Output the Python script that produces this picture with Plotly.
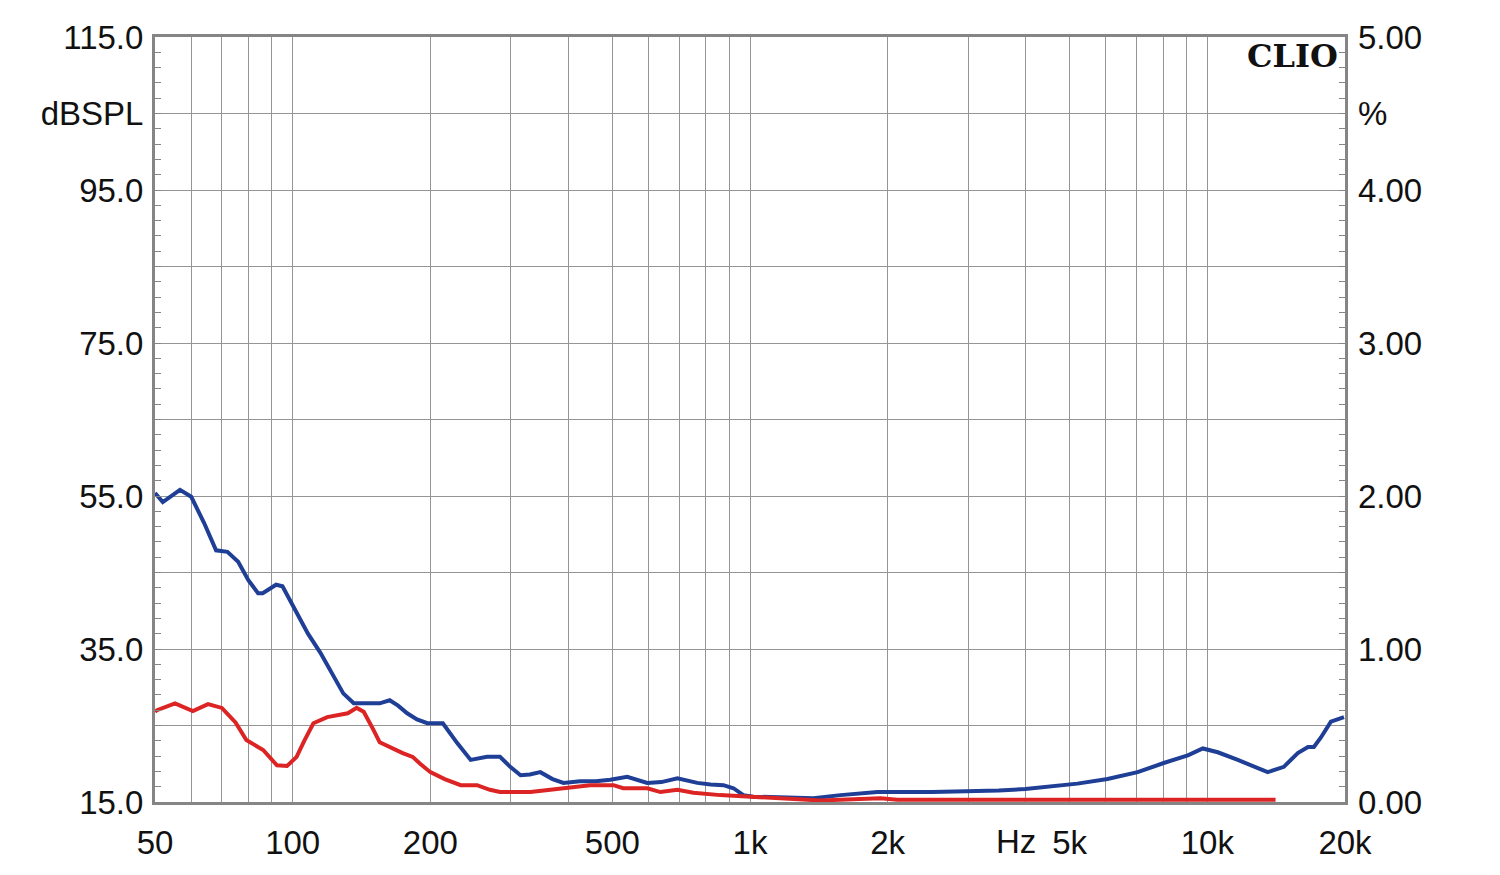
import numpy as np
import plotly.graph_objects as go

# ---- data ----
blue_freq = [50, 52, 56.7, 60, 64, 68, 72, 76, 80, 84, 86, 92, 95, 102, 108, 115, 122, 129, 136, 155, 163,
             170, 178, 187, 197, 213, 229, 245, 266, 284, 299, 315, 330, 348, 370, 391, 425, 460, 495, 539,
             596, 640, 694, 767, 820, 875, 920, 967, 1017, 1200, 1377, 1577, 1900, 2500, 3000, 3500, 4000,
             4540, 5200, 6050, 7040, 8030, 9065, 9775, 10540, 11660, 12600, 13550, 14700, 15770, 16600,
             17100, 17700, 18630, 19900]
blue_db = [55.4, 54.2, 55.8, 54.9, 51.5, 47.9, 47.7, 46.4, 44.0, 42.3, 42.3, 43.4, 43.2, 39.7, 37.0, 34.5,
           31.8, 29.2, 27.9, 27.9, 28.3, 27.6, 26.6, 25.8, 25.3, 25.3, 22.7, 20.5, 20.9, 20.9, 19.6, 18.5,
           18.6, 18.9, 18.0, 17.5, 17.7, 17.7, 17.9, 18.3, 17.5, 17.6, 18.1, 17.5, 17.3, 17.2, 16.8, 15.9,
           15.7, 15.6, 15.5, 15.9, 16.3, 16.3, 16.4, 16.5, 16.7, 17.0, 17.4, 18.0, 18.9, 20.1, 21.1, 22.0,
           21.5, 20.5, 19.6, 18.9, 19.6, 21.4, 22.2, 22.2, 23.4, 25.5, 26.1]

red_freq = [50, 50.5, 55.3, 60.5, 65.3, 70, 75, 79.2, 86.2, 92.4, 97.2, 102, 106, 111, 119, 132, 138, 143,
            150, 155, 174, 183, 190, 200, 215, 233, 253, 270, 284, 331, 366, 447, 503, 528, 596, 637, 694,
            752, 861, 1002, 1166, 1426, 1928, 2100, 3000, 4000, 6000, 8000, 10000, 12000, 14100]
red_db = [26.8, 27.0, 27.9, 26.9, 27.8, 27.3, 25.4, 23.1, 21.8, 19.8, 19.7, 20.9, 23.0, 25.3, 26.1, 26.6,
          27.3, 26.8, 24.5, 22.8, 21.4, 20.9, 20.0, 18.9, 18.0, 17.2, 17.2, 16.6, 16.3, 16.3, 16.6, 17.2,
          17.2, 16.8, 16.8, 16.3, 16.6, 16.2, 15.9, 15.7, 15.5, 15.2, 15.5, 15.3, 15.3, 15.3, 15.3, 15.4,
          15.3, 15.3, 15.3]

x_grid = [50, 60, 70, 80, 90, 100, 200, 300, 400, 500, 600, 700, 800, 900, 1000,
          2000, 3000, 4000, 5000, 6000, 7000, 8000, 9000, 10000, 20000]
x_labels = {50: "50", 100: "100", 200: "200", 500: "500", 1000: "1k", 2000: "2k",
            5000: "5k", 10000: "10k", 20000: "20k"}
y_grid = [15, 25, 35, 45, 55, 65, 75, 85, 95, 105, 115]
y_labels = {15: "15.0", 35: "35.0", 55: "55.0", 75: "75.0", 95: "95.0", 105: "dBSPL", 115: "115.0"}
y2_grid = [0, 0.5, 1, 1.5, 2, 2.5, 3, 3.5, 4, 4.5, 5]
y2_labels = {0: "0.00", 1: "1.00", 2: "2.00", 3: "3.00", 4: "4.00", 4.5: "%", 5: "5.00"}

BLUE = "#1f3f96"
RED = "#dc2424"
GRID = "#959595"
FRAME = "#858585"
FONT = "Liberation Sans, Arial, sans-serif"

fig = go.Figure()
fig.add_trace(go.Scatter(x=blue_freq, y=blue_db, mode="lines",
                         line=dict(color=BLUE, width=4), showlegend=False))
fig.add_trace(go.Scatter(x=red_freq, y=red_db, mode="lines",
                         line=dict(color=RED, width=4), showlegend=False))
# invisible trace to activate right axis
fig.add_trace(go.Scatter(x=[50], y=[0], yaxis="y2", mode="markers",
                         marker=dict(opacity=0), showlegend=False, hoverinfo="skip"))

fig.update_layout(
    width=1500, height=875,
    margin=dict(l=147, r=163, t=29, b=81),
    paper_bgcolor="white", plot_bgcolor="white",
    font=dict(family=FONT, size=33, color="#111111"),
    xaxis=dict(
        type="log", range=[np.log10(50), np.log10(20000)],
        tickmode="array", tickvals=x_grid,
        ticktext=[x_labels.get(v, "") for v in x_grid],
        showgrid=True, gridcolor=GRID, gridwidth=1.3,
        showline=True, linecolor=FRAME, linewidth=3, mirror=True,
        ticks="", ticklabelstandoff=9, zeroline=False,
    ),
    yaxis=dict(
        range=[15, 115], tickmode="array", tickvals=y_grid,
        ticktext=[y_labels.get(v, "") for v in y_grid],
        showgrid=True, gridcolor=GRID, gridwidth=1.3,
        showline=True, linecolor=FRAME, linewidth=3, mirror=True,
        ticks="inside", ticklen=6, tickcolor=FRAME, ticklabelstandoff=2,
        minor=dict(tick0=15, dtick=2, ticks="inside", ticklen=6, tickcolor=FRAME, showgrid=False),
        zeroline=False,
    ),
    yaxis2=dict(
        overlaying="y", side="right", range=[0, 5], tickmode="array", tickvals=y2_grid,
        ticktext=[y2_labels.get(v, "") for v in y2_grid],
        showgrid=False, ticks="inside", ticklen=6, tickcolor=FRAME, ticklabelstandoff=12,
        minor=dict(tick0=0, dtick=0.1, ticks="inside", ticklen=6, tickcolor=FRAME, showgrid=False),
        zeroline=False,
    ),
    annotations=[
        dict(text="<b>CLIO</b>", xref="paper", yref="paper", x=0.996, y=1.003,
             xanchor="right", yanchor="top", showarrow=False,
             font=dict(family="DejaVu Serif, serif", size=32, color="#111111")),
        dict(text="Hz", xref="x", yref="paper", x=np.log10(3810), y=-0.0515,
             xanchor="center", yanchor="middle", showarrow=False,
             font=dict(family=FONT, size=33, color="#111111")),
    ],
)

fig.write_html("out.html")
